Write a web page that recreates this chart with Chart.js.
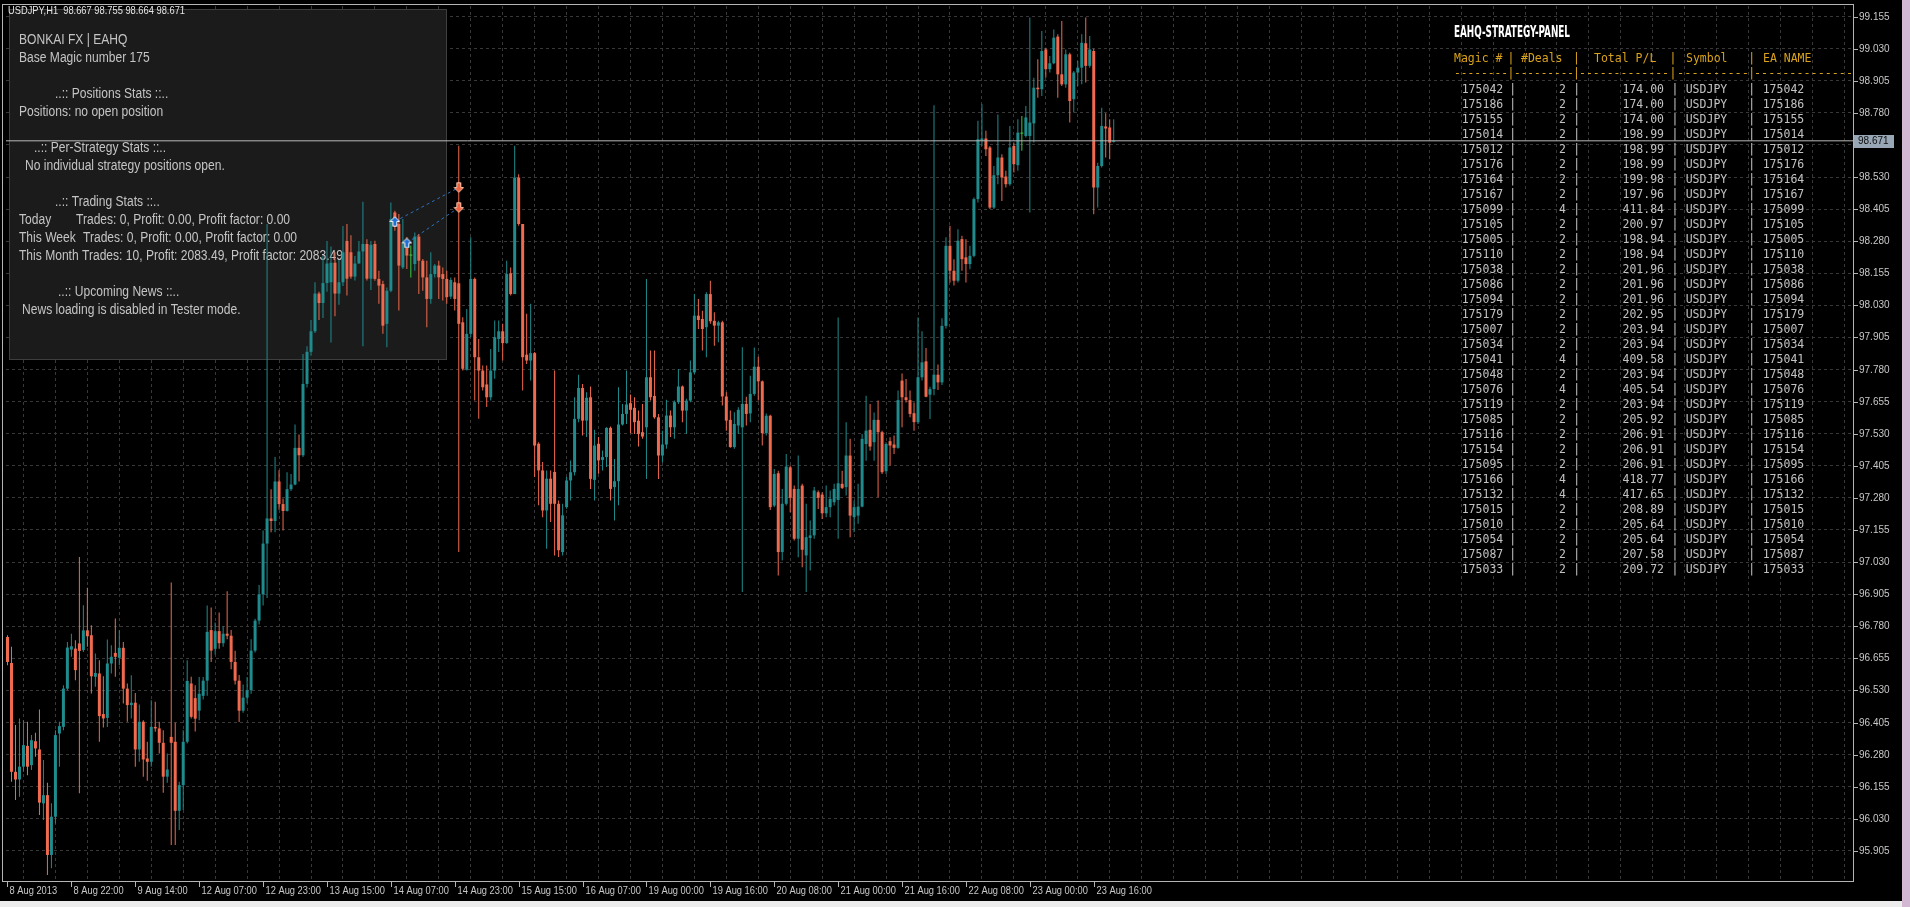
<!DOCTYPE html>
<html>
<head>
<meta charset="utf-8">
<title>USDJPY H1</title>
<script src="https://cdn.jsdelivr.net/npm/chart.js@4.4.0/dist/chart.umd.min.js"></script>
<style>
    html, body { margin: 0; padding: 0; background: #000; overflow: hidden; }
    canvas { display: block; }
</style>
</head>
<body>
<canvas id="priceChart" width="1910" height="907"></canvas>
<script>
// USDJPY H1 candles, 8 Aug 2013 06:00 -> 23 Aug 2013 ~18:00

const opens = [
    96.738, 96.637, 96.213, 96.183, 96.233, 96.314, 96.239, 96.332, 96.300, 96.090,
    96.122, 95.889, 96.038, 96.362, 96.388, 96.537, 96.689, 96.693, 96.713, 96.687,
    96.764, 96.745, 96.583, 96.596, 96.438, 96.423, 96.635, 96.676, 96.657, 96.696,
    96.537, 96.473, 96.482, 96.300, 96.408, 96.265, 96.252, 96.388, 96.382, 96.326,
    96.194, 96.349, 96.330, 96.061, 96.161, 96.330, 96.557, 96.500, 96.451, 96.509,
    96.568, 96.765, 96.692, 96.761, 96.714, 96.751, 96.743, 96.641, 96.568, 96.451,
    96.502, 96.531, 96.685, 96.802, 96.904, 97.102, 97.200, 97.190, 97.344, 97.256,
    97.229, 97.314, 97.332, 97.475, 97.446, 97.724, 97.849, 97.929, 98.076, 98.039,
    98.117, 98.120, 98.196, 98.076, 98.120, 98.281, 98.237, 98.142, 98.193, 98.240,
    98.269, 98.134, 98.269, 98.133, 98.113, 97.958, 98.087, 98.392, 98.347, 98.178,
    98.263, 98.224, 98.191, 98.298, 98.204, 98.139, 98.055, 98.152, 98.185, 98.152,
    98.133, 98.064, 98.120, 98.116, 97.964, 97.779, 97.919, 98.133, 97.828, 97.776,
    97.722, 97.672, 97.776, 97.899, 97.929, 97.883, 98.155, 98.074, 98.528, 98.347,
    97.838, 97.815, 97.844, 97.491, 97.387, 97.231, 97.355, 97.381, 97.257, 97.069,
    97.244, 97.348, 97.380, 97.588, 97.708, 97.581, 97.672, 97.350, 97.491, 97.428,
    97.439, 97.553, 97.322, 97.345, 97.566, 97.607, 97.649, 97.631, 97.581, 97.536,
    97.555, 97.750, 97.677, 97.594, 97.445, 97.488, 97.601, 97.555, 97.653, 97.714,
    97.620, 97.659, 97.769, 97.990, 97.977, 97.945, 98.074, 97.970, 97.951, 97.964,
    97.675, 97.584, 97.478, 97.562, 97.555, 97.646, 97.609, 97.685, 97.791, 97.734,
    97.532, 97.600, 97.250, 97.376, 97.069, 97.257, 97.399, 97.315, 97.121, 97.328,
    97.056, 97.124, 97.134, 97.302, 97.293, 97.220, 97.244, 97.263, 97.272, 97.335,
    97.322, 97.445, 97.205, 97.211, 97.246, 97.490, 97.545, 97.497, 97.584, 97.536,
    97.384, 97.501, 97.488, 97.475, 97.737, 97.672, 97.661, 97.610, 97.575, 97.750,
    97.812, 97.682, 97.704, 97.760, 97.730, 97.950, 98.262, 98.165, 98.126, 98.288,
    98.217, 98.191, 98.223, 98.444, 98.671, 98.680, 98.645, 98.411, 98.537, 98.606,
    98.532, 98.502, 98.651, 98.576, 98.699, 98.690, 98.690, 98.739, 98.878, 98.872,
    99.027, 98.950, 98.973, 99.077, 98.930, 98.891, 99.008, 98.833, 98.937, 98.956,
    99.051, 98.963, 99.021, 98.489, 98.573, 98.727, 98.723, 98.667
];

const highs = [
    96.745, 96.700, 96.395, 96.421, 96.414, 96.408, 96.356, 96.365, 96.456, 96.259,
    96.170, 96.090, 96.375, 96.408, 96.550, 96.719, 96.751, 96.725, 97.050, 96.862,
    96.930, 96.784, 96.674, 96.648, 96.585, 96.728, 96.706, 96.810, 96.764, 96.719,
    96.557, 96.589, 96.520, 96.475, 96.414, 96.330, 96.492, 96.486, 96.408, 96.375,
    96.284, 96.950, 96.404, 96.174, 96.375, 96.648, 96.583, 96.550, 96.582, 96.582,
    96.861, 96.853, 96.795, 96.834, 96.780, 96.916, 96.765, 96.685, 96.590, 96.553,
    96.582, 96.729, 96.809, 96.941, 97.153, 98.347, 97.314, 97.439, 97.388, 97.278,
    97.380, 97.373, 97.566, 97.527, 97.841, 97.871, 97.973, 98.120, 98.083, 98.222,
    98.281, 98.259, 98.237, 98.207, 98.339, 98.347, 98.303, 98.222, 98.281, 98.434,
    98.288, 98.281, 98.282, 98.165, 98.126, 98.100, 98.431, 98.399, 98.386, 98.366,
    98.295, 98.263, 98.314, 98.308, 98.211, 98.204, 98.237, 98.191, 98.204, 98.178,
    98.165, 98.139, 98.139, 98.652, 97.984, 98.016, 98.295, 98.139, 97.899, 97.796,
    97.796, 97.860, 97.971, 97.971, 97.958, 98.204, 98.178, 98.652, 98.541, 98.347,
    97.997, 98.036, 97.848, 97.497, 97.420, 97.387, 97.387, 97.776, 97.270, 97.257,
    97.361, 97.426, 97.672, 97.760, 97.724, 97.692, 97.714, 97.545, 97.517, 97.465,
    97.555, 97.558, 97.432, 97.711, 97.646, 97.776, 97.683, 97.672, 97.620, 97.646,
    98.133, 97.854, 97.854, 97.607, 97.542, 97.662, 97.620, 97.659, 97.782, 97.718,
    97.666, 97.815, 98.074, 98.055, 98.009, 98.081, 98.126, 98.003, 97.970, 97.970,
    97.692, 97.620, 97.614, 97.633, 97.867, 97.674, 97.756, 97.866, 97.830, 97.737,
    97.609, 97.604, 97.393, 97.386, 97.315, 97.451, 97.406, 97.328, 97.445, 97.335,
    97.257, 97.192, 97.322, 97.309, 97.302, 97.328, 97.309, 97.335, 97.983, 97.386,
    97.575, 97.510, 97.270, 97.335, 97.529, 97.678, 97.646, 97.613, 97.659, 97.542,
    97.497, 97.516, 97.523, 97.698, 97.765, 97.743, 97.698, 97.652, 97.983, 97.929,
    97.864, 97.713, 98.810, 97.800, 97.980, 98.295, 98.340, 98.210, 98.327, 98.301,
    98.288, 98.262, 98.450, 98.749, 98.813, 98.710, 98.651, 98.573, 98.774, 98.619,
    98.554, 98.729, 98.664, 98.755, 98.768, 98.807, 99.151, 98.917, 98.989, 99.099,
    99.034, 99.001, 99.105, 99.086, 99.138, 99.027, 99.014, 98.943, 98.982, 99.086,
    99.151, 99.079, 99.030, 98.586, 98.800, 98.778, 98.755, 98.755
];

const lows = [
    96.628, 96.174, 96.103, 96.116, 96.213, 96.200, 96.220, 96.272, 96.045, 96.025,
    95.811, 95.837, 96.012, 96.233, 96.375, 96.531, 96.661, 96.570, 96.129, 96.680,
    96.700, 96.518, 96.544, 96.330, 96.386, 96.388, 96.596, 96.583, 96.628, 96.479,
    96.408, 96.421, 96.233, 96.252, 96.194, 96.178, 96.233, 96.369, 96.284, 96.131,
    96.170, 95.928, 95.928, 95.986, 96.064, 96.323, 96.421, 96.370, 96.414, 96.495,
    96.509, 96.641, 96.670, 96.692, 96.700, 96.729, 96.612, 96.553, 96.407, 96.443,
    96.480, 96.517, 96.678, 96.787, 96.861, 96.890, 97.146, 97.146, 97.234, 97.153,
    97.227, 97.307, 97.329, 97.344, 97.439, 97.710, 97.834, 97.922, 97.973, 97.981,
    98.083, 97.885, 97.988, 98.032, 98.105, 98.068, 98.134, 98.127, 98.193, 97.871,
    98.127, 98.090, 98.126, 98.036, 97.919, 97.867, 98.081, 98.321, 98.010, 98.172,
    98.172, 98.139, 98.165, 98.074, 98.087, 97.945, 98.036, 98.139, 98.055, 98.049,
    98.036, 98.055, 98.010, 97.069, 97.776, 97.776, 97.906, 97.659, 97.588, 97.698,
    97.634, 97.659, 97.744, 97.848, 97.815, 97.880, 98.068, 98.074, 98.340, 97.698,
    97.802, 97.737, 97.361, 97.251, 97.205, 97.082, 97.186, 97.056, 97.050, 97.056,
    97.238, 97.270, 97.367, 97.575, 97.523, 97.517, 97.315, 97.270, 97.374, 97.387,
    97.400, 97.270, 97.192, 97.251, 97.562, 97.568, 97.532, 97.529, 97.480, 97.510,
    97.354, 97.659, 97.588, 97.354, 97.419, 97.471, 97.517, 97.510, 97.646, 97.575,
    97.529, 97.653, 97.763, 97.938, 97.854, 97.828, 97.958, 97.873, 97.886, 97.640,
    97.542, 97.475, 97.471, 97.529, 96.913, 97.562, 97.575, 97.678, 97.659, 97.484,
    97.523, 97.233, 97.244, 96.978, 97.036, 97.250, 97.224, 97.114, 97.049, 97.010,
    96.913, 96.997, 97.121, 97.237, 97.198, 97.205, 97.205, 97.250, 97.121, 97.315,
    97.289, 97.127, 97.146, 97.179, 97.244, 97.425, 97.464, 97.425, 97.283, 97.373,
    97.373, 97.406, 97.451, 97.471, 97.555, 97.652, 97.594, 97.542, 97.568, 97.737,
    97.672, 97.587, 97.680, 97.700, 97.720, 97.940, 98.119, 98.107, 98.119, 98.165,
    98.119, 98.171, 98.217, 98.431, 98.651, 98.612, 98.405, 98.405, 98.502, 98.437,
    98.489, 98.496, 98.548, 98.554, 98.632, 98.684, 98.392, 98.664, 98.839, 98.846,
    98.917, 98.937, 98.969, 98.839, 98.885, 98.878, 98.742, 98.781, 98.885, 98.891,
    98.898, 98.956, 98.385, 98.411, 98.567, 98.606, 98.599, 98.664
];

const closes = [
    96.641, 96.213, 96.183, 96.233, 96.317, 96.233, 96.336, 96.304, 96.093, 96.122,
    95.889, 96.038, 96.356, 96.391, 96.537, 96.697, 96.702, 96.609, 96.684, 96.764,
    96.741, 96.585, 96.598, 96.430, 96.421, 96.635, 96.661, 96.661, 96.696, 96.537,
    96.473, 96.482, 96.300, 96.408, 96.261, 96.252, 96.388, 96.382, 96.326, 96.194,
    96.222, 96.326, 96.061, 96.161, 96.330, 96.567, 96.427, 96.420, 96.517, 96.568,
    96.758, 96.685, 96.761, 96.714, 96.751, 96.743, 96.641, 96.568, 96.451, 96.502,
    96.531, 96.685, 96.802, 96.904, 97.102, 97.200, 97.190, 97.344, 97.256, 97.229,
    97.314, 97.332, 97.475, 97.446, 97.724, 97.849, 97.929, 98.076, 98.039, 98.117,
    98.193, 98.196, 98.076, 98.120, 98.237, 98.134, 98.142, 98.193, 98.240, 98.269,
    98.134, 98.266, 98.133, 98.107, 97.951, 98.087, 98.366, 98.347, 98.185, 98.269,
    98.224, 98.224, 98.298, 98.204, 98.139, 98.055, 98.152, 98.185, 98.139, 98.133,
    98.062, 98.129, 98.055, 97.958, 97.783, 97.919, 98.133, 97.828, 97.776, 97.711,
    97.672, 97.776, 97.906, 97.929, 97.883, 98.152, 98.074, 98.528, 98.347, 97.828,
    97.815, 97.844, 97.484, 97.387, 97.231, 97.355, 97.257, 97.257, 97.076, 97.212,
    97.348, 97.380, 97.588, 97.708, 97.581, 97.670, 97.354, 97.484, 97.426, 97.439,
    97.553, 97.315, 97.345, 97.566, 97.607, 97.644, 97.623, 97.575, 97.529, 97.519,
    97.750, 97.672, 97.594, 97.445, 97.488, 97.601, 97.555, 97.653, 97.714, 97.620,
    97.659, 97.769, 97.990, 97.973, 97.938, 98.074, 97.968, 97.951, 97.964, 97.675,
    97.581, 97.478, 97.568, 97.623, 97.646, 97.607, 97.685, 97.791, 97.734, 97.532,
    97.600, 97.244, 97.373, 97.069, 97.257, 97.402, 97.280, 97.121, 97.315, 97.078,
    97.127, 97.134, 97.309, 97.280, 97.220, 97.244, 97.276, 97.315, 97.337, 97.319,
    97.445, 97.211, 97.244, 97.246, 97.510, 97.542, 97.480, 97.584, 97.536, 97.380,
    97.490, 97.484, 97.475, 97.661, 97.672, 97.661, 97.607, 97.575, 97.750, 97.808,
    97.674, 97.704, 97.760, 97.730, 97.950, 98.262, 98.165, 98.126, 98.282, 98.210,
    98.191, 98.223, 98.444, 98.677, 98.680, 98.638, 98.411, 98.537, 98.606, 98.528,
    98.502, 98.645, 98.580, 98.703, 98.699, 98.762, 98.742, 98.878, 98.872, 99.021,
    98.950, 98.973, 99.073, 98.930, 98.891, 99.008, 98.826, 98.937, 98.956, 99.053,
    98.963, 99.027, 98.489, 98.573, 98.729, 98.719, 98.664, 98.671
];

// one label every 16 bars, starting at bar 0
const timeLabels = [
    '8 Aug 2013', '8 Aug 22:00', '9 Aug 14:00', '12 Aug 07:00', '12 Aug 23:00', '13 Aug 15:00',
    '14 Aug 07:00', '14 Aug 23:00', '15 Aug 15:00', '16 Aug 07:00', '19 Aug 00:00', '19 Aug 16:00',
    '20 Aug 08:00', '21 Aug 00:00', '21 Aug 16:00', '22 Aug 08:00', '23 Aug 00:00', '23 Aug 16:00'
];

const priceTicks = [
    95.905, 96.030, 96.155, 96.280, 96.405, 96.530, 96.655, 96.780, 96.905,
    97.030, 97.155, 97.280, 97.405, 97.530, 97.655, 97.780, 97.905, 98.030,
    98.155, 98.280, 98.405, 98.530, 98.655, 98.780, 98.905, 99.030, 99.155
];

const bidPrice = 98.671;
const chartHeader = 'USDJPY,H1  98.667 98.755 98.664 98.671';

// tester trades: two buys closed on the same bar
const tradeOpenBar = [97, 100];
const tradeOpenPrice = [98.357, 98.273];
const tradeCloseBar = [113, 113];
const tradeClosePrice = [98.489, 98.411];

// EA info panel
const infoText = [
    'BONKAI FX | EAHQ',
    'Base Magic number 175',
    '..:: Positions Stats ::..',
    'Positions: no open position',
    '..:: Per-Strategy Stats ::..',
    'No individual strategy positions open.',
    '..:: Trading Stats ::..',
    'Today',
    'Trades: 0, Profit: 0.00, Profit factor: 0.00',
    'This Week',
    'Trades: 0, Profit: 0.00, Profit factor: 0.00',
    'This Month Trades: 10, Profit: 2083.49, Profit factor: 2083.49',
    '..:: Upcoming News ::..',
    'News loading is disabled in Tester mode.'
];

// strategy panel table
const panelTitle = 'EAHQ-STRATEGY-PANEL';
const tableHeader = ['Magic #', '#Deals', 'Total P/L', 'Symbol', 'EA NAME'];
const magics = [
    175042, 175186, 175155, 175014, 175012, 175176, 175164, 175167, 175099, 175105, 175005,
    175110, 175038, 175086, 175094, 175179, 175007, 175034, 175041, 175048, 175076, 175119,
    175085, 175116, 175154, 175095, 175166, 175132, 175015, 175010, 175054, 175087, 175033
];
const dealCounts = [
    2, 2, 2, 2, 2, 2, 2, 2, 4, 2, 2,
    2, 2, 2, 2, 2, 2, 2, 4, 2, 4, 2,
    2, 2, 2, 2, 4, 4, 2, 2, 2, 2, 2
];
const totalPL = [
    174.00, 174.00, 174.00, 198.99, 198.99, 198.99, 199.98, 197.96, 411.84, 200.97, 198.94,
    198.94, 201.96, 201.96, 201.96, 202.95, 203.94, 203.94, 409.58, 203.94, 405.54, 203.94,
    205.92, 206.91, 206.91, 206.91, 418.77, 417.65, 208.89, 205.64, 205.64, 207.58, 209.72
];
const tableSymbol = 'USDJPY';

// ---- look ----
const BULL = '#1f8b8d';
const BEAR = '#ef6a4e';
const DOJI = '#3ccc3c';
const GRID = '#383838';
const X_MIN = -0.375;
const X_MAX = 462.125;
const Y_MAX = 99.1962;
const Y_MIN = 95.7876;

const infoPos = [
    [19, 40], [19, 58], [55, 94], [19, 112], [34, 148], [25, 166], [55, 202],
    [19, 220], [76, 220], [19, 238], [83, 238], [19, 256], [58, 292], [22, 310]
];

function makeArrow(fill, stroke, down) {
    const c = document.createElement('canvas');
    c.width = 11;
    c.height = 11;
    const g = c.getContext('2d');
    const pts = [[5.5, 0.8], [10.2, 5.5], [7.5, 5.5], [7.5, 10.2], [3.5, 10.2], [3.5, 5.5], [0.8, 5.5]];
    g.beginPath();
    pts.forEach(([x, y], k) => {
        const yy = down ? 11 - y : y;
        if (k === 0) g.moveTo(x, yy); else g.lineTo(x, yy);
    });
    g.closePath();
    g.fillStyle = fill;
    g.fill();
    g.strokeStyle = stroke;
    g.lineWidth = 1;
    g.stroke();
    return c;
}

function drawText(ctx, text, x, y, sx, align) {
    ctx.save();
    ctx.translate(x, y);
    ctx.scale(sx, 1);
    ctx.textAlign = align || 'left';
    ctx.fillText(text, 0, 0);
    ctx.restore();
}

function fitScale(ctx, text, width) {
    return width / ctx.measureText(text).width;
}

function drawInfoPanel(ctx) {
    ctx.save();
    ctx.fillStyle = '#1b1b1b';
    ctx.fillRect(9, 9, 438, 351);
    ctx.strokeStyle = '#3e3e3e';
    ctx.lineWidth = 1;
    ctx.strokeRect(9.5, 9.5, 437, 350);

    ctx.font = '14px "Liberation Sans", Arial, sans-serif';
    ctx.textBaseline = 'middle';
    ctx.fillStyle = '#c4c4c4';
    const sx = fitScale(ctx, infoText[11], 324);
    infoText.forEach((t, k) => drawText(ctx, t, infoPos[k][0], infoPos[k][1], sx));
    ctx.restore();
}

function drawStrategyPanel(ctx) {
    ctx.save();
    ctx.textBaseline = 'middle';

    ctx.font = 'bold 16px "DejaVu Sans Condensed", "DejaVu Sans", sans-serif';
    ctx.fillStyle = '#ffffff';
    drawText(ctx, panelTitle, 1454, 33, fitScale(ctx, panelTitle, 116));

    ctx.font = '11.5px "DejaVu Sans Mono", monospace';
    ctx.fillStyle = '#d9a21b';
    const headX = [1454, 1521, 1594, 1686, 1763];
    tableHeader.forEach((t, k) => drawText(ctx, t, headX[k], 59, 1));
    [1511, 1576.5, 1673, 1751.7].forEach(x => drawText(ctx, '|', x, 59, 1, 'center'));

    // dashed separator row
    const segs = [[1454, 1508], [1514, 1574], [1579, 1669], [1677, 1749], [1754, 1853]];
    segs.forEach(([a, b]) => {
        const n = Math.round((b - a) / 6.93);
        drawText(ctx, '-'.repeat(n), a, 74, (b - a) / ctx.measureText('-'.repeat(n)).width);
    });
    [1511, 1576.5, 1673, 1751.7].forEach(x => drawText(ctx, '|', x, 74, 1, 'center'));

    ctx.fillStyle = '#c2c2c2';
    magics.forEach((m, r) => {
        const y = 90 + r * 15;
        drawText(ctx, String(m), 1461.7, y, 1);
        drawText(ctx, '|', 1512.7, y, 1, 'center');
        drawText(ctx, String(dealCounts[r]), 1566, y, 1, 'right');
        drawText(ctx, '|', 1576.7, y, 1, 'center');
        drawText(ctx, totalPL[r].toFixed(2), 1664, y, 1, 'right');
        drawText(ctx, '|', 1675, y, 1, 'center');
        drawText(ctx, tableSymbol, 1685.7, y, 1);
        drawText(ctx, '|', 1751.7, y, 1, 'center');
        drawText(ctx, String(m), 1762.7, y, 1);
    });
    ctx.restore();
}

const mt4Plugin = {
    id: 'mt4Look',
    beforeDraw(chart) {
        const ctx = chart.ctx;
        ctx.save();
        ctx.fillStyle = '#000000';
        ctx.fillRect(0, 0, 1910, 907);
        ctx.fillStyle = '#ececec';
        ctx.fillRect(0, 901, 1910, 6);
        ctx.fillStyle = '#d3b8d3';
        ctx.fillRect(1902, 0, 8, 907);
        ctx.restore();
    },
    beforeDatasetsDraw(chart) {
        drawInfoPanel(chart.ctx);
        drawStrategyPanel(chart.ctx);
    },
    afterDatasetsDraw(chart) {
        const ctx = chart.ctx;
        const xs = chart.scales.x;
        const ys = chart.scales.y;
        ctx.save();

        // frame
        ctx.strokeStyle = '#b4b4b4';
        ctx.lineWidth = 1;
        ctx.strokeRect(2.5, 4.5, 1851, 877);

        // price axis
        ctx.font = '10px "Liberation Sans", Arial, sans-serif';
        ctx.fillStyle = '#c8c8c8';
        ctx.textBaseline = 'middle';
        ctx.textAlign = 'left';
        priceTicks.forEach(p => {
            const y = Math.round(ys.getPixelForValue(p)) + 0.5;
            ctx.beginPath();
            ctx.moveTo(1854, y);
            ctx.lineTo(1858, y);
            ctx.stroke();
            ctx.fillText(p.toFixed(3), 1859, y);
        });

        // time axis
        ctx.font = '10px "Liberation Sans", Arial, sans-serif';
        timeLabels.forEach((t, k) => {
            const x = Math.round(xs.getPixelForValue(k * 16)) + 0.5;
            ctx.beginPath();
            ctx.moveTo(x, 882);
            ctx.lineTo(x, 887);
            ctx.stroke();
            drawText(ctx, t, x + 2, 891, 0.93);
        });

        // bid label on the price axis
        const by = Math.round(ys.getPixelForValue(bidPrice));
        ctx.fillStyle = '#98a7b6';
        ctx.fillRect(1854, by - 6, 40, 13);
        ctx.fillStyle = '#0c0c0c';
        ctx.font = '10px "Liberation Sans", Arial, sans-serif';
        ctx.fillText(bidPrice.toFixed(3), 1858, by + 0.5);

        // chart header
        ctx.font = '11px "Liberation Sans", Arial, sans-serif';
        ctx.fillStyle = '#e6e6e6';
        drawText(ctx, chartHeader, 8, 11, fitScale(ctx, chartHeader, 177));

        ctx.restore();
    }
};

function initializePriceChart() {
    const canvas = document.getElementById('priceChart');
    const ctx = canvas.getContext('2d');

    const idx = closes.map((_, i) => i);
    const candleColors = idx.map(i =>
        closes[i] > opens[i] ? BULL : (closes[i] < opens[i] ? BEAR : DOJI));

    const gridBars = [];
    for (let b = 8; b < X_MAX; b += 8) gridBars.push(b);

    const buyArrow = makeArrow('#1f6fd6', '#ffffff', false);
    const closeArrow = makeArrow('#f0603c', '#ffc8b0', true);

    const datasets = [
        {
            type: 'bar',
            label: 'wicks',
            data: idx.map(i => ({ x: i, y: [lows[i], highs[i]] })),
            backgroundColor: candleColors,
            barThickness: 1,
            maxBarThickness: 1,
            grouped: false,
            inflateAmount: 0,
            borderWidth: 0,
            order: 5
        },
        {
            type: 'bar',
            label: 'bodies',
            data: idx.map(i => ({ x: i, y: [opens[i], closes[i]] })),
            backgroundColor: candleColors,
            barThickness: 3,
            maxBarThickness: 3,
            minBarLength: 1,
            grouped: false,
            inflateAmount: 0,
            borderWidth: 0,
            order: 4
        },
        {
            type: 'line',
            label: 'bid',
            data: [{ x: X_MIN, y: bidPrice }, { x: X_MAX, y: bidPrice }],
            borderColor: '#b8b8b8',
            borderWidth: 1,
            pointRadius: 0,
            order: 2
        }
    ];

    tradeOpenBar.forEach((b, k) => {
        datasets.push({
            type: 'line',
            label: 'trade ' + (k + 1),
            data: [{ x: b, y: tradeOpenPrice[k] }, { x: tradeCloseBar[k], y: tradeClosePrice[k] }],
            borderColor: '#2a72b8',
            borderWidth: 1,
            borderDash: [3, 3],
            pointRadius: 0,
            order: 6
        });
    });

    datasets.push({
        type: 'line',
        label: 'buys',
        data: tradeOpenBar.map((b, k) => ({ x: b, y: tradeOpenPrice[k] })),
        showLine: false,
        pointStyle: buyArrow,
        pointRadius: 5,
        order: 0
    });
    datasets.push({
        type: 'line',
        label: 'closes',
        data: tradeCloseBar.map((b, k) => ({ x: b, y: tradeClosePrice[k] })),
        showLine: false,
        pointStyle: closeArrow,
        pointRadius: 5,
        order: 0
    });

    new Chart(ctx, {
        type: 'bar',
        data: { datasets },
        plugins: [mt4Plugin],
        options: {
            responsive: false,
            animation: false,
            events: [],
            layout: { padding: { left: 3, top: 5, right: 57, bottom: 26 } },
            plugins: {
                legend: { display: false },
                tooltip: { enabled: false }
            },
            scales: {
                x: {
                    type: 'linear',
                    min: X_MIN,
                    max: X_MAX,
                    offset: false,
                    afterBuildTicks: s => { s.ticks = gridBars.map(v => ({ value: v })); },
                    afterFit: s => { s.height = 0; },
                    ticks: { display: false },
                    grid: { color: GRID, drawTicks: false, lineWidth: 1 },
                    border: { display: false, dash: [3, 3] }
                },
                y: {
                    type: 'linear',
                    position: 'right',
                    min: Y_MIN,
                    max: Y_MAX,
                    afterBuildTicks: s => { s.ticks = priceTicks.map(v => ({ value: v })); },
                    afterFit: s => { s.width = 0; },
                    ticks: { display: false },
                    grid: { color: GRID, drawTicks: false, lineWidth: 1 },
                    border: { display: false, dash: [3, 3] }
                }
            }
        }
    });
}

initializePriceChart();
</script>
</body>
</html>
